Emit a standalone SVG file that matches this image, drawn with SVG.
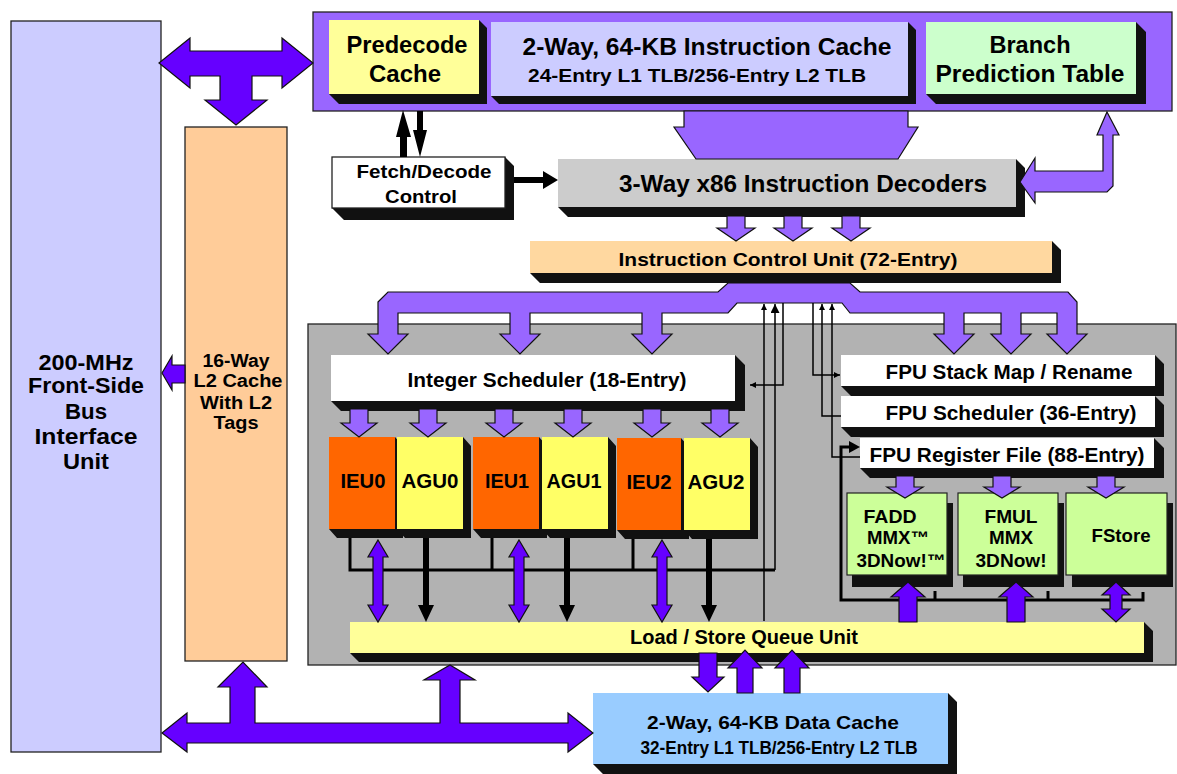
<svg xmlns="http://www.w3.org/2000/svg" width="1177" height="774" viewBox="0 0 1177 774">
<defs>
<style>
.t{font-family:"Liberation Sans",Arial,Helvetica,sans-serif;font-weight:bold;fill:#000;text-anchor:middle}
.bd{stroke:#222;stroke-width:1.3}
.sh{fill:#111}
.lp{fill:#9966FF;stroke:#111;stroke-width:1.2}
.dp{fill:#6600FF;stroke:#111;stroke-width:1.2}
.ln{fill:none;stroke:#000;stroke-width:1.5}
.blk{fill:#000}
</style>
<marker id="ah" viewBox="0 0 10 10" refX="10" refY="5" markerWidth="6" markerHeight="6" markerUnits="userSpaceOnUse" orient="auto">
<path d="M0,0 L10,5 L0,10 Z" fill="#000"/>
</marker>
<marker id="ah2" viewBox="0 0 10 10" refX="10" refY="5" markerWidth="9" markerHeight="9" markerUnits="userSpaceOnUse" orient="auto">
<path d="M0,0 L10,5 L0,10 Z" fill="#000"/>
</marker>
</defs>
<rect width="1177" height="774" fill="#fff"/>

<g id="biu">
<rect x="11" y="21" width="150" height="731" fill="#CCCCFF" class="bd"/>
<text class="t" font-size="22" x="86" y="370" textLength="95" lengthAdjust="spacingAndGlyphs">200-MHz</text>
<text class="t" font-size="22" x="86" y="393" textLength="116" lengthAdjust="spacingAndGlyphs">Front-Side</text>
<text class="t" font-size="22" x="86" y="419" textLength="42" lengthAdjust="spacingAndGlyphs">Bus</text>
<text class="t" font-size="22" x="86" y="444" textLength="103" lengthAdjust="spacingAndGlyphs">Interface</text>
<text class="t" font-size="22" x="86" y="469" textLength="46" lengthAdjust="spacingAndGlyphs">Unit</text>
</g>

<g id="l2cache">
<rect x="185" y="127" width="102" height="534" fill="#FFCC99" class="bd"/>
<text class="t" font-size="18" x="236" y="367" textLength="67" lengthAdjust="spacingAndGlyphs">16-Way</text>
<text class="t" font-size="18" x="238" y="387" textLength="89" lengthAdjust="spacingAndGlyphs">L2 Cache</text>
<text class="t" font-size="18" x="236" y="409" textLength="72" lengthAdjust="spacingAndGlyphs">With L2</text>
<text class="t" font-size="18" x="236" y="429" textLength="45" lengthAdjust="spacingAndGlyphs">Tags</text>
</g>

<g id="fetch-block">
<rect x="313" y="12" width="859" height="99" fill="#9966FF" class="bd"/>
</g>

<g id="predecode">
<polygon class="sh" points="329,94 339,104 487,104 487,28 479,20 479,94"/>
<rect x="329" y="20" width="150" height="74" fill="#FFFF99"/>
<text class="t" font-size="23" x="407" y="53" textLength="121" lengthAdjust="spacingAndGlyphs">Predecode</text>
<text class="t" font-size="23" x="405" y="82" textLength="72" lengthAdjust="spacingAndGlyphs">Cache</text>
</g>

<g id="icache">
<polygon class="sh" points="491,96 499,104 916,104 916,30 908,22 908,96"/>
<rect x="491" y="22" width="417" height="74" fill="#CCCCFF"/>
<text class="t" font-size="23" x="707" y="55" textLength="369" lengthAdjust="spacingAndGlyphs">2-Way, 64-KB Instruction Cache</text>
<text class="t" font-size="19" x="697" y="82" textLength="338" lengthAdjust="spacingAndGlyphs">24-Entry L1 TLB/256-Entry L2 TLB</text>
</g>

<g id="branch">
<polygon class="sh" points="926,94 936,104 1146,104 1146,32 1136,22 1136,94"/>
<rect x="926" y="22" width="210" height="72" fill="#CCFFCC"/>
<text class="t" font-size="23" x="1030" y="53" textLength="81" lengthAdjust="spacingAndGlyphs">Branch</text>
<text class="t" font-size="23" x="1030" y="82" textLength="189" lengthAdjust="spacingAndGlyphs">Prediction Table</text>
</g>

<g id="fetchctl">
<polygon class="sh" points="332,208 344,220 514,220 514,166 505,157 505,208"/>
<rect x="332" y="157" width="173" height="51" fill="#fff" class="bd"/>
<text class="t" font-size="19" x="424" y="178" textLength="135" lengthAdjust="spacingAndGlyphs">Fetch/Decode</text>
<text class="t" font-size="19" x="421" y="203" textLength="72" lengthAdjust="spacingAndGlyphs">Control</text>
</g>

<g id="decoders">
<polygon class="sh" points="558,207 568,217 1025,217 1025,168 1016,159 1016,207"/>
<rect x="558" y="159" width="458" height="48" fill="#CCCCCC"/>
<text class="t" font-size="23" x="803" y="192" textLength="368" lengthAdjust="spacingAndGlyphs">3-Way x86 Instruction Decoders</text>
</g>

<g id="icu">
<polygon class="sh" points="530,273 540,283 1061,283 1061,250 1052,241 1052,273"/>
<rect x="530" y="241" width="522" height="32" fill="#FFD8A0"/>
<text class="t" font-size="19" x="788" y="266" textLength="339" lengthAdjust="spacingAndGlyphs">Instruction Control Unit (72-Entry)</text>
</g>

<g id="exec-area">
<rect x="308" y="324" width="868" height="341" fill="#B2B2B2" stroke="#222" stroke-width="1.3"/>
</g>

<g id="intsched">
<polygon class="sh" points="331,401 341,411 745,411 745,365 735,355 735,401"/>
<rect x="331" y="355" width="404" height="46" fill="#fff"/>
<text class="t" font-size="20" x="547" y="387" textLength="279" lengthAdjust="spacingAndGlyphs">Integer Scheduler (18-Entry)</text>
</g>

<g id="ieu0">
<polygon class="sh" points="329,529 337,538 403,538 403,446 395,437 395,529"/>
<rect x="329" y="437" width="66" height="92" fill="#FF6600"/>
<text class="t" font-size="20" x="363" y="488" textLength="45" lengthAdjust="spacingAndGlyphs">IEU0</text>
</g>
<g id="agu0">
<polygon class="sh" points="397,529 405,538 471,538 471,446 463,437 463,529"/>
<rect x="397" y="437" width="66" height="92" fill="#FFFF66"/>
<text class="t" font-size="20" x="430" y="488" textLength="57" lengthAdjust="spacingAndGlyphs">AGU0</text>
</g>
<g id="ieu1">
<polygon class="sh" points="473,529 481,538 547,538 547,446 539,437 539,529"/>
<rect x="473" y="437" width="66" height="92" fill="#FF6600"/>
<text class="t" font-size="20" x="507" y="488" textLength="44" lengthAdjust="spacingAndGlyphs">IEU1</text>
</g>
<g id="agu1">
<polygon class="sh" points="542,529 550,538 616,538 616,446 608,437 608,529"/>
<rect x="542" y="437" width="66" height="92" fill="#FFFF66"/>
<text class="t" font-size="20" x="574" y="488" textLength="55" lengthAdjust="spacingAndGlyphs">AGU1</text>
</g>
<g id="ieu2">
<polygon class="sh" points="617,530 625,539 689,539 689,447 681,438 681,530"/>
<rect x="617" y="438" width="64" height="92" fill="#FF6600"/>
<text class="t" font-size="20" x="649" y="489" textLength="45" lengthAdjust="spacingAndGlyphs">IEU2</text>
</g>
<g id="agu2">
<polygon class="sh" points="684,530 692,539 758,539 758,447 750,438 750,530"/>
<rect x="684" y="438" width="66" height="92" fill="#FFFF66"/>
<text class="t" font-size="20" x="716" y="489" textLength="57" lengthAdjust="spacingAndGlyphs">AGU2</text>
</g>

<g id="fpustack">
<polygon class="sh" points="841,386 851,396 1164,396 1164,364 1155,355 1155,386"/>
<rect x="841" y="355" width="314" height="31" fill="#fff"/>
<text class="t" font-size="20" x="1009" y="379" textLength="247" lengthAdjust="spacingAndGlyphs">FPU Stack Map / Rename</text>
</g>
<g id="fpusched">
<polygon class="sh" points="841,427 851,437 1164,437 1164,405 1155,396 1155,427"/>
<rect x="841" y="396" width="314" height="31" fill="#fff"/>
<text class="t" font-size="20" x="1011" y="420" textLength="251" lengthAdjust="spacingAndGlyphs">FPU Scheduler (36-Entry)</text>
</g>
<g id="fpureg">
<polygon class="sh" points="860,468 870,478 1164,478 1164,448 1154,438 1154,468"/>
<rect x="860" y="438" width="294" height="30" fill="#fff"/>
<text class="t" font-size="20" x="1007" y="462" textLength="275" lengthAdjust="spacingAndGlyphs">FPU Register File (88-Entry)</text>
</g>

<g id="fadd">
<rect x="852" y="503" width="101" height="84" fill="#111"/>
<rect x="847" y="493" width="100" height="82" fill="#CCFF99" stroke="#222" stroke-width="1.2"/>
<text class="t" font-size="18" x="890" y="523" textLength="53" lengthAdjust="spacingAndGlyphs">FADD</text>
<text class="t" font-size="18" x="898" y="544" textLength="62" lengthAdjust="spacingAndGlyphs">MMX™</text>
<text class="t" font-size="18" x="901" y="567" textLength="89" lengthAdjust="spacingAndGlyphs">3DNow!™</text>
</g>
<g id="fmul">
<rect x="963" y="503" width="101" height="84" fill="#111"/>
<rect x="958" y="493" width="100" height="82" fill="#CCFF99" stroke="#222" stroke-width="1.2"/>
<text class="t" font-size="18" x="1011" y="523" textLength="53" lengthAdjust="spacingAndGlyphs">FMUL</text>
<text class="t" font-size="18" x="1011" y="544" textLength="44" lengthAdjust="spacingAndGlyphs">MMX</text>
<text class="t" font-size="18" x="1011" y="567" textLength="71" lengthAdjust="spacingAndGlyphs">3DNow!</text>
</g>
<g id="fstore">
<rect x="1072" y="503" width="101" height="84" fill="#111"/>
<rect x="1066" y="493" width="101" height="82" fill="#CCFF99" stroke="#222" stroke-width="1.2"/>
<text class="t" font-size="18" x="1121" y="542" textLength="59" lengthAdjust="spacingAndGlyphs">FStore</text>
</g>

<g id="lsq">
<polygon class="sh" points="350,653 359,662 1153,662 1153,631 1144,622 1144,653"/>
<rect x="350" y="622" width="794" height="31" fill="#FFFF99"/>
<text class="t" font-size="21" x="744" y="644" textLength="228" lengthAdjust="spacingAndGlyphs">Load / Store Queue Unit</text>
</g>

<g id="dcache">
<polygon class="sh" points="593,764 603,774 957,774 957,702 948,693 948,764"/>
<rect x="593" y="693" width="355" height="71" fill="#99CCFF"/>
<text class="t" font-size="19" x="773" y="729" textLength="252" lengthAdjust="spacingAndGlyphs">2-Way, 64-KB Data Cache</text>
<text class="t" font-size="18" x="779" y="754" textLength="277" lengthAdjust="spacingAndGlyphs">32-Entry L1 TLB/256-Entry L2 TLB</text>
</g>

<g id="connectors">
<path class="dp" d="M159,63 L190,38 L190,51 L282,51 L282,38 L313,63 L282,88 L282,76 L252,76 L252,100 L267,100 L236,125 L205,100 L220,100 L220,76 L190,76 L190,88 Z"/>
<path class="dp" d="M162,373 L172,356 L172,365 L185,365 L185,383 L172,383 L172,390 Z"/>
<path class="dp" d="M162,733 L187,713 L187,723 L230,723 L230,687 L218,687 L243,662 L267,687 L255,687 L255,723 L440,723 L440,680 L424,680 L450,665 L475,680 L460,680 L460,723 L568,723 L568,713 L593,733 L568,752 L568,743 L187,743 L187,752 Z"/>
<path class="lp" d="M684,111 L908,111 L908,127 L918,127 L898,159 L696,159 L674,127 L684,127 Z"/>
<path class="lp" d="M1107,112 L1119,135 L1113,135 L1113,186 L1107,192 L1035,192 L1035,203 L1020,182 L1035,158 L1035,171 L1103,171 L1103,135 L1097,135 Z"/>
<path class="blk" d="M400,157 L400,137 L396,137 L403,110 L411,137 L407,137 L407,157 Z"/>
<path class="blk" d="M417,111 L423,111 L423,130 L427,130 L420,157 L413,130 L417,130 Z"/>
<path class="blk" d="M514,177 L543,177 L543,171 L558,180 L543,189 L543,183 L514,183 Z"/>
<path class="lp" d="M727,216 L745,216 L745,228 L755,228 L736,241 L717,228 L727,228 Z"/>
<path class="lp" d="M784,216 L802,216 L802,228 L812,228 L793,241 L774,228 L784,228 Z"/>
<path class="lp" d="M842,216 L860,216 L860,228 L870,228 L851,241 L832,228 L842,228 Z"/>
<path class="lp" d="M378,302 L388,292 L718,292 L728,283 L850,283 L860,292 L1068,292 L1077,302 L1077,334 L1087,334 L1067,354 L1047,334 L1057,334 L1057,313 L1021,313 L1021,334 L1031,334 L1011,354 L991,334 L1001,334 L1001,313 L964,313 L964,334 L974,334 L954,354 L934,334 L944,334 L944,313 L850,313 L842,303 L737,303 L728,313 L662,313 L662,334 L672,334 L652,354 L632,334 L642,334 L642,313 L530,313 L530,334 L540,334 L520,354 L500,334 L510,334 L510,313 L398,313 L398,334 L408,334 L388,354 L368,334 L378,334 Z"/>
<path class="lp" d="M350,409 L368,409 L368,423 L377,423 L359,437 L341,423 L350,423 Z"/>
<path class="lp" d="M419,409 L437,409 L437,423 L446,423 L428,437 L410,423 L419,423 Z"/>
<path class="lp" d="M495,409 L513,409 L513,423 L522,423 L504,437 L486,423 L495,423 Z"/>
<path class="lp" d="M564,409 L582,409 L582,423 L591,423 L573,437 L555,423 L564,423 Z"/>
<path class="lp" d="M643,409 L661,409 L661,423 L670,423 L652,437 L634,423 L643,423 Z"/>
<path class="lp" d="M711,409 L729,409 L729,423 L738,423 L720,437 L702,423 L711,423 Z"/>
<line class="ln" x1="764" y1="621" x2="764" y2="304" marker-end="url(#ah)"/>
<line class="ln" x1="775" y1="570" x2="775" y2="304" stroke-width="2.5" marker-end="url(#ah2)"/>
<polyline class="ln" points="783,303 783,385 750,385" marker-end="url(#ah)"/>
<polyline class="ln" points="813,303 813,375 840,375" marker-end="url(#ah)"/>
<polyline class="ln" points="841,416 822,416 822,304" marker-end="url(#ah)"/>
<polyline class="ln" points="860,457 832,457 832,304" marker-end="url(#ah)"/>
<polyline fill="none" stroke="#000" stroke-width="3" points="350,538 350,570 775,570"/>
<line x1="492" y1="538" x2="492" y2="570" stroke="#000" stroke-width="3"/>
<line x1="633" y1="539" x2="633" y2="570" stroke="#000" stroke-width="3"/>
<polyline fill="none" stroke="#000" stroke-width="3" points="1143,592 1143,600 841,600 841,447 850,447"/>
<path class="blk" d="M849,441 L860,447 L849,453 Z"/>
<line x1="935" y1="600" x2="935" y2="591" stroke="#000" stroke-width="3"/>
<line x1="1048" y1="600" x2="1048" y2="591" stroke="#000" stroke-width="3"/>
<path class="dp" d="M378,540 L388,557 L383,557 L383,605 L388,605 L378,622 L368,605 L373,605 L373,557 L368,557 Z"/>
<path class="dp" d="M519,540 L529,557 L524,557 L524,605 L529,605 L519,622 L509,605 L514,605 L514,557 L509,557 Z"/>
<path class="dp" d="M662,540 L672,557 L667,557 L667,605 L672,605 L662,622 L652,605 L657,605 L657,557 L652,557 Z"/>
<path class="blk" d="M423,538 L429,538 L429,605 L434,605 L426,622 L418,605 L423,605 Z"/>
<path class="blk" d="M564,538 L570,538 L570,605 L575,605 L567,622 L559,605 L564,605 Z"/>
<path class="blk" d="M706,539 L712,539 L712,605 L717,605 L709,622 L701,605 L706,605 Z"/>
<path class="lp" d="M896,476 L914,476 L914,487 L923,487 L905,498 L887,487 L896,487 Z"/>
<path class="lp" d="M993,476 L1011,476 L1011,487 L1020,487 L1002,498 L984,487 L993,487 Z"/>
<path class="lp" d="M1097,476 L1115,476 L1115,487 L1124,487 L1106,498 L1088,487 L1097,487 Z"/>
<path class="dp" d="M899,622 L899,597 L891,597 L908,582 L925,597 L917,597 L917,622 Z"/>
<path class="dp" d="M1007,622 L1007,597 L999,597 L1016,582 L1033,597 L1025,597 L1025,622 Z"/>
<path class="dp" d="M1116,582 L1130,595 L1122,595 L1122,609 L1130,609 L1116,622 L1102,609 L1110,609 L1110,595 L1102,595 Z"/>
<path class="dp" d="M699,653 L717,653 L717,677 L724,677 L708,692 L692,677 L699,677 Z"/>
<path class="dp" d="M737,693 L737,668 L728,668 L745,650 L762,668 L753,668 L753,693 Z"/>
<path class="dp" d="M784,693 L784,668 L775,668 L792,650 L809,668 L800,668 L800,693 Z"/>
</g>
</svg>
